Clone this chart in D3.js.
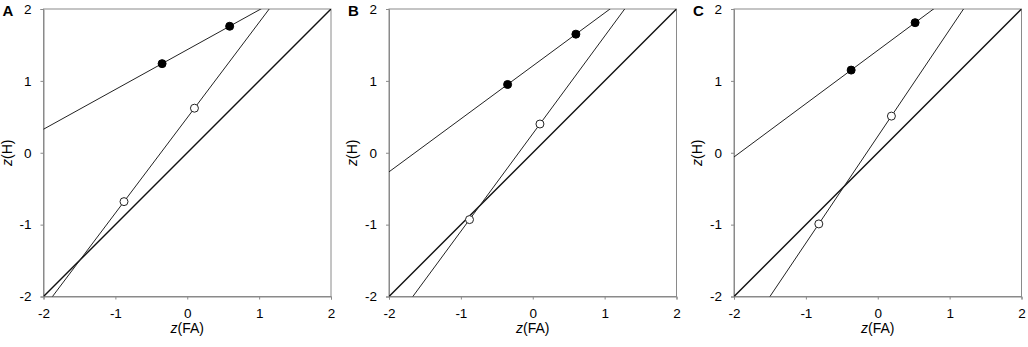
<!DOCTYPE html>
<html>
<head>
<meta charset="utf-8">
<script src="https://cdn.jsdelivr.net/npm/d3@7"></script>
<style>
  body { margin: 0; background: #fff; }
  svg { display: block; font-family: "Liberation Sans", Arial, sans-serif; }
</style>
</head>
<body>
<div id="chart"></div>
<script>
// panel letters
const panels = ["A", "B", "C"];
// tick values used on both axes
const ticks = [-2, -1, 0, 1, 2];
// filled points (x = z(FA), y = z(H))
const filledA = [[-0.35, 1.24], [0.59, 1.76]];
const filledB = [[-0.35, 0.95], [0.60, 1.65]];
const filledC = [[-0.37, 1.15], [0.52, 1.81]];
// open points
const openA = [[-0.88, -0.68], [0.10, 0.62]];
const openB = [[-0.88, -0.93], [0.10, 0.40]];
const openC = [[-0.82, -0.99], [0.19, 0.51]];

const filled = [filledA, filledB, filledC];
const open = [openA, openB, openC];

const W = 1028, H = 347;
const lefts = [43.5, 389, 734];
const size = 287.5, plotTop = 9;

const svg = d3.select("#chart").append("svg")
  .attr("width", W).attr("height", H);

// extend a line through two points across the full x range
function lineThrough(p) {
  const m = (p[1][1] - p[0][1]) / (p[1][0] - p[0][0]);
  const b = p[0][1] - m * p[0][0];
  return [[-3, m * -3 + b], [3, m * 3 + b]];
}

const fmt = d => String(d); // plain hyphen, like the original

panels.forEach(function(name, i) {
  const x = d3.scaleLinear().domain([-2, 2]).range([lefts[i], lefts[i] + size]);
  const y = d3.scaleLinear().domain([-2, 2]).range([plotTop + size, plotTop]);
  const g = svg.append("g");

  g.append("clipPath").attr("id", "clip" + i)
    .append("rect")
      .attr("x", x(-2)).attr("y", y(2))
      .attr("width", size).attr("height", size);

  const line = d3.line().x(d => x(d[0])).y(d => y(d[1]));

  // frame
  g.append("rect")
    .attr("x", x(-2)).attr("y", y(2))
    .attr("width", size).attr("height", size)
    .attr("fill", "none").attr("stroke", "#8a8a8a").attr("stroke-width", 1);

  // axes
  const xa = g.append("g")
    .attr("transform", "translate(0," + y(-2) + ")")
    .call(d3.axisBottom(x).tickValues(ticks).tickSize(3).tickPadding(9).tickFormat(fmt));
  const ya = g.append("g")
    .attr("transform", "translate(" + x(-2) + ",0)")
    .call(d3.axisLeft(y).tickValues(ticks).tickSize(3).tickPadding(9).tickFormat(fmt));
  [xa, ya].forEach(a => {
    a.select(".domain").attr("stroke", "#8a8a8a");
    a.selectAll(".tick line").attr("stroke", "#8a8a8a");
    a.selectAll("text").attr("font-size", 13.5).attr("fill", "#000")
      .attr("font-family", "Liberation Sans, Arial, sans-serif");
  });

  const plot = g.append("g").attr("clip-path", "url(#clip" + i + ")");

  // chance diagonal
  plot.append("path")
    .attr("d", line([[-2, -2], [2, 2]]))
    .attr("stroke", "#111").attr("stroke-width", 1.4).attr("fill", "none");

  plot.append("path")
    .attr("d", line(lineThrough(filled[i])))
    .attr("stroke", "#222").attr("stroke-width", 1).attr("fill", "none");
  plot.append("path")
    .attr("d", line(lineThrough(open[i])))
    .attr("stroke", "#222").attr("stroke-width", 1).attr("fill", "none");

  g.selectAll(".filled").data(filled[i]).enter().append("circle")
    .attr("cx", d => x(d[0])).attr("cy", d => y(d[1])).attr("r", 4)
    .attr("fill", "#000").attr("stroke", "#000");
  g.selectAll(".open").data(open[i]).enter().append("circle")
    .attr("cx", d => x(d[0])).attr("cy", d => y(d[1])).attr("r", 4)
    .attr("fill", "#fff").attr("stroke", "#222").attr("stroke-width", 1);

  // axis titles
  const xl = g.append("text")
    .attr("x", x(0)).attr("y", 333)
    .attr("text-anchor", "middle").attr("font-size", 14).attr("fill", "#000");
  xl.append("tspan").attr("font-style", "italic").text("z");
  xl.append("tspan").text("(FA)");

  const yl = g.append("text")
    .attr("transform", "translate(" + (x(-2) - 32) + "," + y(0) + ") rotate(-90)")
    .attr("text-anchor", "middle").attr("font-size", 14).attr("fill", "#000");
  yl.append("tspan").attr("font-style", "italic").text("z");
  yl.append("tspan").text("(H)");

  // panel letter
  g.append("text")
    .attr("x", x(-2) - 41).attr("y", 16)
    .attr("font-size", 15).attr("font-weight", "bold").attr("fill", "#000")
    .text(name);
});
</script>
</body>
</html>
